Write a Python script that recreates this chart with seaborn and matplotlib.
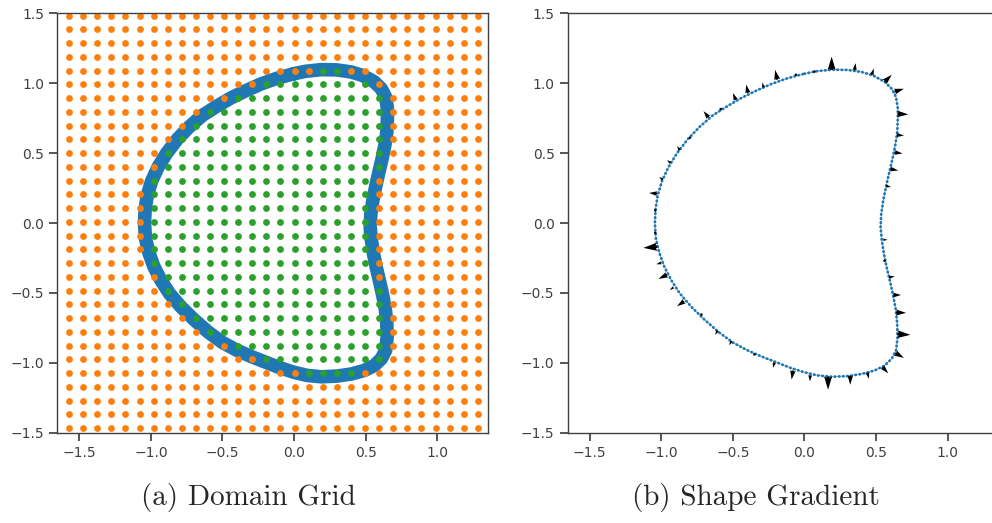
import matplotlib
matplotlib.use("Agg")
import matplotlib.pyplot as plt
import numpy as np
import pandas as pd
import seaborn as sns
from matplotlib.path import Path

# regular grid of sample points
GRID_X = [-1.572, -1.473, -1.375, -1.276, -1.178, -1.079, -0.981, -0.882, -0.784, -0.686,
          -0.587, -0.489, -0.390, -0.292, -0.193, -0.095, 0.004, 0.102, 0.201, 0.299,
          0.398, 0.496, 0.595, 0.693, 0.792, 0.890, 0.989, 1.087, 1.186, 1.284]
GRID_Y = [1.483, 1.385, 1.286, 1.188, 1.090, 0.991, 0.893, 0.795, 0.696, 0.598,
          0.500, 0.401, 0.303, 0.205, 0.106, 0.008, -0.090, -0.188, -0.287, -0.385,
          -0.483, -0.582, -0.680, -0.778, -0.877, -0.975, -1.073, -1.172, -1.270, -1.368,
          -1.467]

# shape boundary (clockwise from the top)
BOUNDARY_X = [0.000, 0.080, 0.190, 0.300, 0.400, 0.480, 0.560, 0.610, 0.640, 0.652,
              0.652, 0.648, 0.635, 0.615, 0.592, 0.570, 0.550, 0.536, 0.532, 0.540,
              0.555, 0.575, 0.598, 0.620, 0.638, 0.648, 0.650, 0.640, 0.610, 0.560,
              0.490, 0.400, 0.300, 0.190, 0.090, 0.000, -0.100, -0.200, -0.300, -0.400,
              -0.500, -0.600, -0.700, -0.790, -0.870, -0.930, -0.980, -1.015, -1.038, -1.045,
              -1.040, -1.025, -0.995, -0.950, -0.890, -0.815, -0.730, -0.640, -0.540, -0.440,
              -0.340, -0.230, -0.120]
BOUNDARY_Y = [1.068, 1.085, 1.097, 1.095, 1.080, 1.055, 1.010, 0.960, 0.900, 0.820,
              0.740, 0.650, 0.560, 0.460, 0.360, 0.260, 0.160, 0.060, -0.030, -0.120,
              -0.220, -0.320, -0.420, -0.520, -0.620, -0.720, -0.820, -0.910, -0.970, -1.020,
              -1.055, -1.080, -1.095, -1.100, -1.090, -1.068, -1.035, -0.995, -0.955, -0.910,
              -0.855, -0.780, -0.690, -0.600, -0.505, -0.410, -0.310, -0.210, -0.110, 0.000,
              0.100, 0.200, 0.300, 0.400, 0.500, 0.600, 0.690, 0.770, 0.835, 0.895,
              0.945, 0.995, 1.035]

# shape gradient arrows: base point and vector
ARROW_X = [0.19, 0.35, 0.47, 0.56, 0.63, 0.65, 0.645, 0.63, 0.60, 0.57,
           0.55, 0.56, 0.59, 0.62, 0.64, 0.65, 0.635, 0.545, 0.44, 0.32,
           0.165, 0.04, -0.08, -0.21, -0.35, -0.51, -0.605, -0.72, -0.84, -0.915,
           -0.96, -1.0, -1.03, -1.042, -1.042, -1.03, -0.99, -0.935, -0.87, -0.80,
           -0.67, -0.585, -0.48, -0.395, -0.285, -0.19, -0.06, 0.07]
ARROW_Y = [1.095, 1.093, 1.06, 1.01, 0.94, 0.78, 0.63, 0.505, 0.386, 0.265,
           -0.12, -0.27, -0.39, -0.515, -0.64, -0.795, -0.93, -1.03, -1.07, -1.092,
           -1.098, -1.088, -1.055, -0.998, -0.94, -0.845, -0.77, -0.655, -0.56, -0.46,
           -0.37, -0.285, -0.17, -0.07, 0.09, 0.21, 0.31, 0.43, 0.52, 0.61,
           0.755, 0.815, 0.88, 0.93, 0.97, 1.025, 1.06, 1.083]
ARROW_U = [0.0, 0.008, 0.015, 0.05, 0.065, 0.075, 0.05, 0.055, 0.055, 0.035,
           0.03, 0.015, 0.04, 0.055, 0.07, 0.09, 0.06, 0.04, 0.01, 0.0,
           0.0, -0.002, -0.01, -0.01, -0.005, -0.015, -0.02, -0.01, -0.05, -0.025,
           -0.06, -0.035, -0.095, -0.015, -0.015, -0.055, -0.025, -0.025, -0.02, -0.01,
           -0.035, -0.01, -0.02, -0.012, -0.01, -0.015, -0.004, 0.0]
ARROW_V = [0.095, 0.05, 0.045, 0.05, 0.02, -0.003, -0.005, -0.008, -0.01, -0.008,
           0.0, 0.0, 0.01, 0.0, -0.003, -0.005, -0.035, -0.045, -0.045, -0.065,
           -0.095, -0.045, -0.065, -0.038, -0.015, -0.03, -0.03, -0.01, -0.035, -0.02,
           -0.03, -0.01, -0.008, 0.0, 0.0, 0.005, 0.02, 0.02, 0.03, 0.01,
           0.045, 0.01, 0.05, 0.06, 0.035, 0.07, 0.015, 0.015]

CAPTIONS = ["(a) Domain Grid", "(b) Shape Gradient"]
X_TICKS = [-1.5, -1.0, -0.5, 0.0, 0.5, 1.0]
Y_TICKS = [-1.5, -1.0, -0.5, 0.0, 0.5, 1.0, 1.5]
XLIM = (-1.654, 1.357)
YLIM = (-1.5, 1.5)

BLUE, ORANGE, GREEN = "#1f77b4", "#ff7f0e", "#2ca02c"
INK = "#404040"

sns.set_theme(style="ticks")
plt.rcParams.update({
    "font.family": ["DejaVu Sans"],
    "xtick.labelsize": 10,
    "ytick.labelsize": 10,
    "xtick.color": INK,
    "ytick.color": INK,
    "axes.edgecolor": INK,
    "axes.linewidth": 1.0,
})

# split the grid into points inside / outside the shape
gx, gy = np.meshgrid(GRID_X, GRID_Y)
grid = pd.DataFrame({"x": gx.ravel(), "y": gy.ravel()})
shape = Path(np.column_stack([BOUNDARY_X, BOUNDARY_Y]))
grid["inside"] = shape.contains_points(grid[["x", "y"]].to_numpy())

bnd = pd.DataFrame({"x": BOUNDARY_X + BOUNDARY_X[:1], "y": BOUNDARY_Y + BOUNDARY_Y[:1]})

fig = plt.figure(figsize=(9.92, 5.23), dpi=100)
ax1 = fig.add_axes([57.3 / 992, 90.3 / 523, 431 / 992, 419.4 / 523])
ax2 = fig.add_axes([567.7 / 992, 90.3 / 523, 431 / 992, 419.4 / 523])

# (a) domain grid
sns.lineplot(data=bnd, x="x", y="y", sort=False, estimator=None, ax=ax1,
             color=BLUE, linewidth=9.8, solid_capstyle="round",
             solid_joinstyle="round", zorder=1)
sns.scatterplot(data=grid[~grid["inside"]], x="x", y="y", ax=ax1, color=ORANGE,
                s=24, linewidth=0, zorder=2)
sns.scatterplot(data=grid[grid["inside"]], x="x", y="y", ax=ax1, color=GREEN,
                s=24, linewidth=0, zorder=3)

# (b) shape gradient
sns.lineplot(data=bnd, x="x", y="y", sort=False, estimator=None, ax=ax2,
             color=BLUE, linewidth=0.5, alpha=0.6, zorder=1)
sns.lineplot(data=bnd, x="x", y="y", sort=False, estimator=None, ax=ax2,
             color=BLUE, linewidth=2.0, linestyle=(0, (0.2, 1.3)),
             dash_capstyle="round", zorder=2)
ax2.quiver(ARROW_X, ARROW_Y, ARROW_U, ARROW_V, angles="xy", scale_units="xy",
           scale=1, color="black", width=0.0065, zorder=3)

for ax in [ax1, ax2]:
    ax.set_xlim(*XLIM)
    ax.set_ylim(*YLIM)
    ax.set_xticks(X_TICKS)
    ax.set_yticks(Y_TICKS)
    ax.set_xlabel("")
    ax.set_ylabel("")

fig.text(248 / 992, 1 - 497 / 523, CAPTIONS[0], family="cmr10", fontsize=21,
         ha="center", va="center")
fig.text(756 / 992, 1 - 497 / 523, CAPTIONS[1], family="cmr10", fontsize=21,
         ha="center", va="center")

fig.savefig("out.png", dpi=100, facecolor="white")
